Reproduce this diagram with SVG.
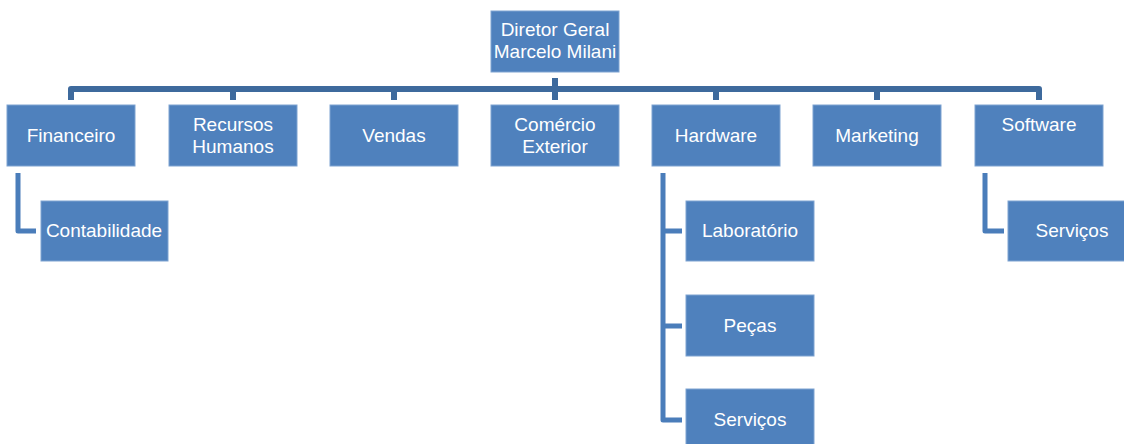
<svg xmlns="http://www.w3.org/2000/svg" width="1124" height="444" viewBox="0 0 1124 444">
<style>
.box{fill:#4F81BD;stroke:#7EA3D1;stroke-width:1}
.t{font-family:"Liberation Sans",Arial,sans-serif;font-size:19px;fill:#FFFFFF;text-anchor:middle}
.bus{fill:none;stroke:#3E6A9D;stroke-width:6;stroke-linejoin:round}
.sub{fill:none;stroke:#4A7DBA;stroke-width:5;stroke-linejoin:round}
</style>
<rect width="1124" height="444" fill="#FFFFFF"/>
<g id="connectors">
<path class="bus" d="M71,100 V89 H1039 V100"/>
<path class="bus" d="M555,78 V100"/>
<path class="bus" d="M233,89 V100 M394,89 V100 M716,89 V100 M877,89 V100"/>
<path class="sub" d="M18,173 V231 H36"/>
<path class="sub" d="M663,173 V420 H682 M663,231 H682 M663,326 H682"/>
<path class="sub" d="M985,173 V231 H1004"/>
</g>
<g id="n-diretor"><rect class="box" x="491" y="11" width="128" height="61"/><text class="t" x="555" y="36">Diretor Geral</text><text class="t" x="555" y="58">Marcelo Milani</text></g>
<g id="n-financeiro"><rect class="box" x="7" y="105" width="128" height="61"/><text class="t" x="71" y="142">Financeiro</text></g>
<g id="n-rh"><rect class="box" x="169" y="105" width="128" height="61"/><text class="t" x="233" y="131">Recursos</text><text class="t" x="233" y="153">Humanos</text></g>
<g id="n-vendas"><rect class="box" x="330" y="105" width="128" height="61"/><text class="t" x="394" y="142">Vendas</text></g>
<g id="n-comercio"><rect class="box" x="491" y="105" width="128" height="61"/><text class="t" x="555" y="131">Comércio</text><text class="t" x="555" y="153">Exterior</text></g>
<g id="n-hardware"><rect class="box" x="652" y="105" width="128" height="61"/><text class="t" x="716" y="142">Hardware</text></g>
<g id="n-marketing"><rect class="box" x="813" y="105" width="128" height="61"/><text class="t" x="877" y="142">Marketing</text></g>
<g id="n-software"><rect class="box" x="975" y="105" width="128" height="61"/><text class="t" x="1039" y="131">Software</text></g>
<g id="n-contabilidade"><rect class="box" x="41" y="201" width="127" height="60"/><text class="t" x="104" y="237">Contabilidade</text></g>
<g id="n-laboratorio"><rect class="box" x="686" y="201" width="128" height="60"/><text class="t" x="750" y="237">Laboratório</text></g>
<g id="n-pecas"><rect class="box" x="686" y="295" width="128" height="61"/><text class="t" x="750" y="332">Peças</text></g>
<g id="n-servicos-hw"><rect class="box" x="686" y="389" width="128" height="61"/><text class="t" x="750" y="426">Serviços</text></g>
<g id="n-servicos-sw"><rect class="box" x="1008" y="201" width="128" height="60"/><text class="t" x="1072" y="237">Serviços</text></g>
</svg>
